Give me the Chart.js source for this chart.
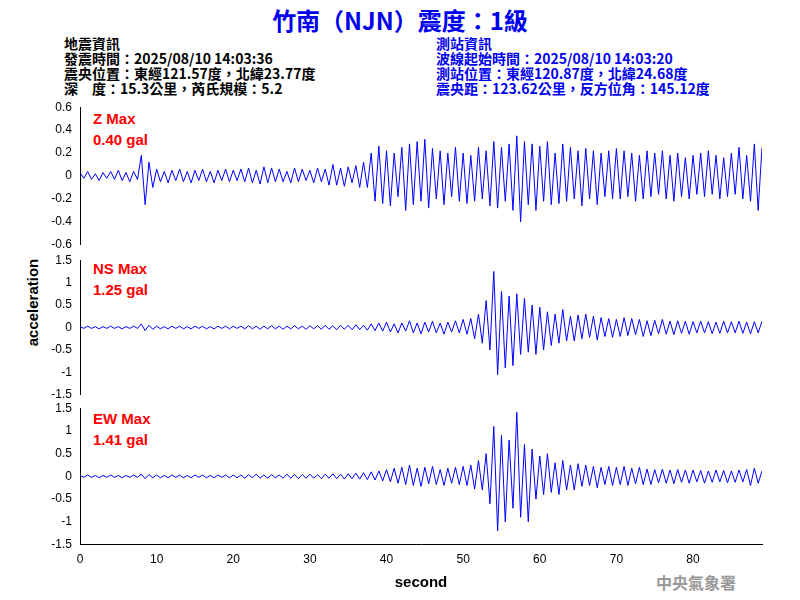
<!DOCTYPE html>
<html>
<head>
<meta charset="utf-8">
<script src="https://cdn.jsdelivr.net/npm/chart.js@4/dist/chart.umd.min.js"></script>
<style>
  body { margin: 0; width: 800px; height: 600px; background: #fff; position: relative; overflow: hidden;
         font-family: "Liberation Sans", Arial, sans-serif; }
  canvas { position: absolute; left: 0; }
  .txt { position: absolute; white-space: nowrap; }
  .hd { font-family: "Noto Sans CJK TC", sans-serif; font-size: 14px; line-height: 15px; font-weight: bold; }
  .mx { color: #f00; font-size: 15px; line-height: 21px; font-weight: bold; }
</style>
</head>
<body>
<div class="txt" style="left:0;width:800px;top:2px;text-align:center;color:#0000ee;font-size:24px;font-weight:bold;font-family:'Noto Sans CJK TC',sans-serif;">竹南（NJN）震度：1級</div>
<div class="txt hd" style="left:64px;top:36px;color:#000;">地震資訊<br>發震時間：2025/08/10 14:03:36<br>震央位置：東經121.57度，北緯23.77度<br>深　度：15.3公里，芮氏規模：5.2</div>
<div class="txt hd" style="left:436px;top:36px;color:#0000ee;">測站資訊<br>波線起始時間：2025/08/10 14:03:20<br>測站位置：東經120.87度，北緯24.68度<br>震央距：123.62公里，反方位角：145.12度</div>
<div class="txt mx" style="left:93px;top:108px;">Z Max<br>0.40 gal</div>
<div class="txt mx" style="left:93px;top:258px;">NS Max<br>1.25 gal</div>
<div class="txt mx" style="left:93px;top:408px;">EW Max<br>1.41 gal</div>
<div class="txt" style="left:-18px;top:294px;width:100px;text-align:center;transform:rotate(-90deg);font-size:15px;font-weight:bold;">acceleration</div>
<div class="txt" style="left:656px;top:570px;color:#999;font-size:16px;font-weight:bold;font-family:'Noto Sans CJK TC',sans-serif;">中央氣象署</div>
<canvas id="cz" width="770" height="158" style="top:97px"></canvas>
<canvas id="cns" width="770" height="155" style="top:250px"></canvas>
<canvas id="cew" width="770" height="202" style="top:398px"></canvas>
<script>
// samples every 0.5 s
const sampleStep = 0.5;
const xTicks = [0, 10, 20, 30, 40, 50, 60, 70, 80];

const zValues = [
  0.03,-0.02,0.04,-0.03,0.02,-0.04,0.03,-0.02,0.04,-0.03,0.05,-0.04,0.03,-0.05,0.04,-0.03,0.18,-0.25,0.12,-0.1,
  0.06,-0.05,0.04,-0.06,0.05,-0.04,0.06,-0.05,0.04,-0.06,0.05,-0.04,0.06,-0.05,0.04,-0.06,0.05,-0.04,0.06,-0.05,
  0.05,-0.04,0.06,-0.05,0.07,-0.06,0.05,-0.07,0.08,-0.06,0.07,-0.05,0.06,-0.05,0.04,-0.06,0.07,-0.05,0.06,-0.04,
  0.05,-0.06,0.07,-0.05,0.06,-0.08,0.1,-0.08,0.07,-0.09,0.08,-0.06,0.09,-0.1,0.12,-0.1,0.2,-0.22,0.26,-0.24,
  0.22,-0.26,0.2,-0.18,0.25,-0.3,0.28,-0.25,0.3,-0.22,0.32,-0.28,0.24,-0.2,0.22,-0.25,0.2,-0.18,0.25,-0.22,
  0.2,-0.24,0.18,-0.22,0.25,-0.2,0.22,-0.26,0.3,-0.28,0.25,-0.22,0.28,-0.3,0.35,-0.4,0.3,-0.25,0.28,-0.3,
  0.26,-0.22,0.3,-0.25,0.2,-0.24,0.28,-0.22,0.25,-0.2,0.22,-0.26,0.24,-0.2,0.22,-0.25,0.2,-0.18,0.22,-0.2,
  0.24,-0.2,0.22,-0.18,0.2,-0.22,0.18,-0.2,0.22,-0.18,0.2,-0.16,0.22,-0.2,0.18,-0.22,0.2,-0.18,0.16,-0.2,
  0.18,-0.16,0.2,-0.18,0.22,-0.16,0.18,-0.2,0.16,-0.18,0.2,-0.16,0.25,-0.2,0.18,-0.22,0.28,-0.3,0.25
];
const nsValues = [
  0.02,-0.02,0.03,-0.02,0.02,-0.03,0.02,-0.02,0.03,-0.02,0.02,-0.03,0.02,-0.02,0.03,-0.02,0.08,-0.07,0.05,-0.04,
  0.03,-0.03,0.02,-0.03,0.03,-0.02,0.03,-0.03,0.02,-0.03,0.03,-0.02,0.03,-0.03,0.02,-0.03,0.03,-0.02,0.03,-0.03,
  0.03,-0.02,0.03,-0.03,0.04,-0.03,0.03,-0.04,0.03,-0.03,0.04,-0.03,0.03,-0.04,0.03,-0.03,0.04,-0.03,0.03,-0.04,
  0.04,-0.03,0.04,-0.04,0.05,-0.04,0.04,-0.05,0.05,-0.04,0.05,-0.05,0.06,-0.05,0.05,-0.06,0.08,-0.07,0.1,-0.08,
  0.12,-0.1,0.08,-0.12,0.1,-0.08,0.15,-0.12,0.1,-0.14,0.12,-0.1,0.14,-0.12,0.1,-0.15,0.12,-0.1,0.15,-0.12,
  0.18,-0.15,0.2,-0.25,0.3,-0.35,0.6,-0.5,1.25,-1.05,0.8,-0.9,0.7,-0.85,0.75,-0.6,0.65,-0.55,0.5,-0.6,
  0.45,-0.5,0.35,-0.4,0.3,-0.35,0.4,-0.3,0.25,-0.3,0.28,-0.25,0.3,-0.22,0.25,-0.28,0.22,-0.2,0.2,-0.22,
  0.18,-0.2,0.22,-0.18,0.2,-0.16,0.18,-0.2,0.15,-0.18,0.16,-0.14,0.18,-0.15,0.14,-0.16,0.15,-0.13,0.14,-0.15,
  0.13,-0.12,0.14,-0.12,0.13,-0.14,0.12,-0.13,0.14,-0.12,0.13,-0.12,0.14,-0.13,0.12,-0.14,0.13,-0.12,0.14
];
const ewValues = [
  0.02,-0.02,0.03,-0.02,0.02,-0.03,0.02,-0.02,0.03,-0.02,0.02,-0.03,0.02,-0.02,0.03,-0.02,0.05,-0.05,0.04,-0.03,
  0.03,-0.03,0.02,-0.03,0.03,-0.02,0.03,-0.03,0.02,-0.03,0.03,-0.02,0.03,-0.03,0.02,-0.03,0.03,-0.02,0.03,-0.03,
  0.03,-0.03,0.03,-0.04,0.04,-0.03,0.05,-0.04,0.03,-0.04,0.04,-0.03,0.03,-0.04,0.05,-0.04,0.04,-0.05,0.04,-0.04,
  0.05,-0.04,0.04,-0.05,0.05,-0.04,0.06,-0.05,0.05,-0.06,0.06,-0.05,0.07,-0.06,0.08,-0.07,0.1,-0.08,0.12,-0.1,
  0.15,-0.12,0.18,-0.15,0.2,-0.18,0.25,-0.2,0.18,-0.22,0.2,-0.16,0.22,-0.18,0.15,-0.2,0.18,-0.15,0.2,-0.18,
  0.22,-0.2,0.25,-0.28,0.35,-0.3,0.5,-0.6,1.1,-1.2,0.9,-1.0,0.8,-0.7,1.41,-0.9,0.7,-1.0,0.6,-0.5,
  0.45,-0.4,0.5,-0.35,0.3,-0.4,0.35,-0.3,0.25,-0.3,0.28,-0.22,0.25,-0.2,0.22,-0.25,0.2,-0.18,0.22,-0.2,
  0.2,-0.18,0.22,-0.2,0.18,-0.16,0.2,-0.18,0.16,-0.18,0.15,-0.14,0.16,-0.15,0.14,-0.16,0.15,-0.13,0.14,-0.15,
  0.14,-0.12,0.13,-0.15,0.12,-0.13,0.14,-0.12,0.13,-0.14,0.12,-0.13,0.14,-0.12,0.15,-0.2,0.18,-0.15,0.12
];

const tickFont = { family: 'Liberation Sans', size: 12 };

function makeTrace(id, values, yMax, yStep, showX, padBottom) {
  const pts = values.map((v, i) => ({ x: i * sampleStep, y: v }));
  return new Chart(document.getElementById(id), {
    type: 'line',
    data: { datasets: [{ data: pts, borderColor: '#0000ff', borderWidth: 1, pointRadius: 0, tension: 0 }] },
    options: {
      responsive: false,
      animation: false,
      layout: { padding: { top: 7, bottom: padBottom, right: 8 } },
      plugins: { legend: { display: false }, tooltip: { enabled: false } },
      scales: {
        x: {
          type: 'linear', min: 0, max: 89,
          display: showX,
          grid: { display: false, drawTicks: true, tickLength: 5 },
          border: { color: '#000' },
          afterBuildTicks: s => { s.ticks = xTicks.map(v => ({ value: v })); },
          ticks: { color: '#000', font: tickFont, maxRotation: 0 },
          title: { display: true, text: 'second', color: '#000', font: { family: 'Liberation Sans', size: 15, weight: 'bold' }, padding: { top: 4 } }
        },
        y: {
          min: -yMax, max: yMax,
          grid: { display: false, tickLength: 5 },
          border: { color: '#000' },
          ticks: { stepSize: yStep, color: '#000', font: tickFont, callback: v => Number(v.toFixed(1)).toString() },
          afterFit: s => { s.width = 80; }
        }
      }
    }
  });
}

makeTrace('cz', zValues, 0.6, 0.2, false, 2);
makeTrace('cns', nsValues, 1.5, 0.5, false, 2);
makeTrace('cew', ewValues, 1.5, 0.5, true, 4);
</script>
</body>
</html>
